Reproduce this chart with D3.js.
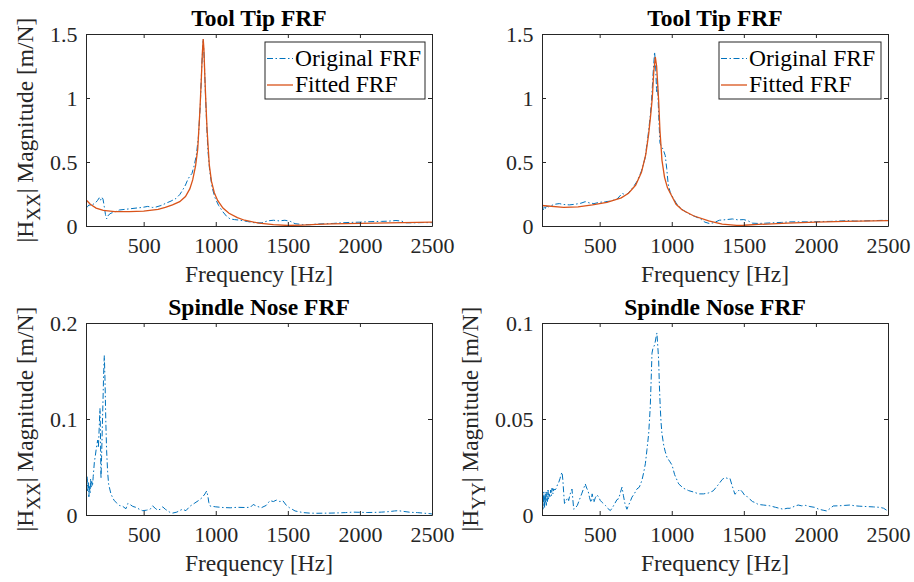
<!DOCTYPE html>
<html>
<head>
<meta charset="utf-8">
<script src="https://cdn.jsdelivr.net/npm/d3@7"></script>
<style>
  body { margin: 0; background: #fff; }
  svg { font-family: "Liberation Serif", "Times New Roman", serif; }
  .axis path, .axis line { stroke: #262626; }
  .axis text { fill: #262626; font-size: 22px; font-family: "Liberation Serif", "Times New Roman", serif; }
</style>
</head>
<body>
<div id="chart"></div>
<script>
// ---- data ----
const xTicks = [500, 1000, 1500, 2000, 2500];
const yTicksTop = [0, 0.5, 1, 1.5];
const yTicksBL = [0, 0.1, 0.2];
const yTicksBR = [0, 0.05, 0.1];

// tool tip, X direction
const freqOrigTL = [100,110,120,135,150,165,180,192,200,210,218,227,235,243,255,273,300,331,370,410,447,490,528,560,585,620,655,690,724,750,770,790,805,820,835,850,865,880,893,903,913,920,928,936,945,958,975,995,1020,1050,1076,1100,1130,1170,1220,1270,1320,1360,1400,1440,1480,1520,1550,1600,1650,1700,1760,1815,1870,1930,2000,2050,2100,2150,2200,2250,2290,2320,2380,2440,2500];
const magOrigTL = [0.16,0.15,0.165,0.16,0.17,0.18,0.2,0.22,0.2,0.225,0.21,0.15,0.09,0.055,0.085,0.1,0.11,0.125,0.13,0.135,0.14,0.145,0.153,0.145,0.148,0.16,0.178,0.195,0.215,0.245,0.28,0.32,0.36,0.39,0.41,0.47,0.55,0.7,0.95,1.25,1.46,1.3,1.05,0.82,0.6,0.43,0.3,0.22,0.16,0.11,0.075,0.055,0.05,0.045,0.035,0.025,0.025,0.04,0.045,0.04,0.045,0.035,0.018,0.012,0.01,0.015,0.018,0.02,0.025,0.028,0.03,0.033,0.035,0.036,0.038,0.043,0.038,0.025,0.025,0.027,0.026];
const freqFitTL = [100,130,170,220,300,400,500,600,650,700,750,790,820,840,860,875,890,900,907,913,918,925,932,940,955,970,990,1013,1050,1092,1150,1200,1300,1400,1500,1600,1700,1800,1900,2000,2200,2400,2500];
const magFitTL = [0.205,0.17,0.14,0.122,0.113,0.112,0.116,0.13,0.145,0.165,0.19,0.23,0.29,0.36,0.47,0.6,0.9,1.15,1.35,1.46,1.38,1.15,0.95,0.75,0.48,0.35,0.26,0.2,0.14,0.1,0.065,0.045,0.022,0.01,0.004,0.007,0.012,0.016,0.019,0.021,0.025,0.028,0.03];

// tool tip, Y direction
const freqOrigTR = [100,105,110,115,120,130,145,165,190,220,250,290,330,370,400,430,460,500,540,580,620,657,680,700,730,760,790,815,835,850,860,870,881,888,895,900,905,910,918,928,940,955,965,975,990,1030,1071,1110,1150,1200,1230,1260,1290,1330,1380,1420,1460,1500,1530,1560,1600,1650,1700,1760,1820,1880,1950,2020,2100,2180,2230,2270,2330,2400,2460,2500];
const magOrigTR = [0.12,0.145,0.125,0.15,0.13,0.155,0.15,0.16,0.17,0.175,0.168,0.165,0.17,0.178,0.19,0.18,0.175,0.185,0.19,0.195,0.21,0.255,0.24,0.26,0.3,0.35,0.43,0.53,0.7,0.85,0.98,1.18,1.36,1.25,1.05,1.15,1.0,0.85,0.65,0.62,0.6,0.55,0.45,0.33,0.26,0.18,0.13,0.1,0.08,0.055,0.03,0.02,0.025,0.045,0.05,0.055,0.048,0.05,0.04,0.022,0.02,0.022,0.025,0.028,0.032,0.033,0.032,0.035,0.036,0.04,0.042,0.038,0.04,0.042,0.044,0.043];
const freqFitTR = [100,250,350,450,550,650,700,750,790,820,840,855,865,875,886,895,903,909,918,932,950,970,990,1030,1071,1150,1256,1350,1450,1500,1600,1800,2000,2200,2400,2500];
const magFitTR = [0.16,0.146,0.15,0.165,0.185,0.22,0.255,0.32,0.42,0.56,0.72,0.88,1.0,1.2,1.32,1.25,1.1,0.98,0.75,0.515,0.38,0.3,0.256,0.17,0.127,0.08,0.04,0.015,0.005,0.006,0.012,0.022,0.03,0.036,0.04,0.042];

// spindle nose, X direction
const freqOrigBL = [100,104,108,112,116,120,124,128,132,135,140,145,150,158,165,172,181,186,190,194,197,200,202,204,208,213,218,222,227,232,237,243,250,257,265,273,285,296,310,331,355,377,390,405,424,445,470,493,520,545,562,580,597,615,632,650,680,701,730,755,770,793,820,850,880,905,925,937,945,952,960,1000,1050,1100,1150,1200,1240,1260,1285,1318,1350,1376,1400,1420,1445,1466,1490,1510,1530,1550,1607,1650,1700,1800,1850,1900,1950,2000,2050,2100,2150,2200,2240,2266,2300,2350,2400,2450,2486,2500];
const magOrigBL = [0.046,0.03,0.04,0.025,0.035,0.019,0.03,0.022,0.038,0.028,0.035,0.03,0.04,0.055,0.062,0.07,0.078,0.07,0.085,0.1,0.111,0.09,0.06,0.038,0.06,0.09,0.12,0.145,0.166,0.14,0.1,0.067,0.045,0.032,0.027,0.022,0.018,0.015,0.013,0.01,0.009,0.0065,0.012,0.011,0.009,0.008,0.006,0.0045,0.005,0.006,0.0095,0.007,0.005,0.006,0.0085,0.006,0.003,0.002,0.003,0.005,0.006,0.0045,0.009,0.012,0.015,0.018,0.022,0.025,0.02,0.013,0.0094,0.0085,0.0078,0.0075,0.008,0.0078,0.008,0.011,0.009,0.0077,0.01,0.015,0.014,0.0155,0.014,0.0148,0.01,0.0077,0.006,0.0042,0.0025,0.002,0.0018,0.002,0.0022,0.0025,0.003,0.0028,0.0026,0.0027,0.003,0.0035,0.0042,0.0045,0.0038,0.0028,0.0025,0.0018,0.0014,0.001];

// spindle nose, Y direction
const freqOrigBR = [100,103,106,109,112,115,118,121,124,127,130,134,138,142,146,150,155,160,165,170,176,181,190,200,208,216,225,232,239,245,250,256,262,270,278,285,292,300,308,314,320,330,345,360,375,390,400,410,420,430,440,448,459,470,482,493,505,518,528,540,555,574,590,605,620,632,645,655,665,675,689,700,712,724,740,759,775,793,805,817,828,840,846,851,857,863,870,878,885,892,897,903,909,914,920,926,932,945,955,967,985,1002,1020,1048,1080,1117,1150,1187,1220,1256,1288,1325,1350,1369,1390,1404,1420,1438,1455,1473,1490,1508,1525,1542,1560,1577,1600,1635,1680,1720,1773,1800,1820,1850,1877,1900,1930,1958,1990,2020,2050,2075,2100,2120,2160,2200,2236,2270,2300,2352,2400,2444,2470,2490];
const magOrigBR = [0.004,0.011,0.003,0.012,0.005,0.01,0.004,0.012,0.006,0.011,0.005,0.012,0.007,0.013,0.008,0.011,0.009,0.013,0.01,0.014,0.011,0.0136,0.013,0.014,0.016,0.017,0.019,0.021,0.0223,0.018,0.012,0.006,0.0065,0.008,0.009,0.0075,0.01,0.012,0.0135,0.008,0.003,0.0035,0.005,0.008,0.011,0.014,0.0162,0.014,0.0125,0.009,0.0065,0.011,0.0065,0.009,0.0105,0.0093,0.0075,0.0065,0.0058,0.005,0.0035,0.0023,0.004,0.006,0.008,0.0085,0.012,0.0145,0.01,0.006,0.003,0.005,0.007,0.0093,0.011,0.0136,0.0145,0.018,0.022,0.0267,0.034,0.0424,0.05,0.0564,0.07,0.0843,0.087,0.088,0.09,0.093,0.0948,0.088,0.081,0.068,0.0564,0.048,0.0424,0.036,0.033,0.03,0.028,0.026,0.021,0.0162,0.014,0.0127,0.012,0.011,0.011,0.0115,0.0126,0.016,0.0185,0.0195,0.019,0.019,0.015,0.0108,0.012,0.0134,0.012,0.01,0.0095,0.0082,0.007,0.0065,0.0055,0.0052,0.0048,0.004,0.003,0.0035,0.0035,0.0045,0.0052,0.0048,0.005,0.0044,0.004,0.003,0.0025,0.0021,0.0035,0.0047,0.0048,0.005,0.0052,0.0048,0.0046,0.0044,0.0042,0.004,0.0035,0.0025];

const blue = '#0072BD';
const orange = '#D95319';
const dashDot = '6,2.5,1.5,2.5';

const W = 914, H = 582;
const svg = d3.select('#chart').append('svg')
  .attr('width', W).attr('height', H);

const panels = [
  {left: 86,  top: 34,  ymax: 1.5, yTicks: yTicksTop, title: 'Tool Tip FRF', sub: 'XX', ylabOff: 53,
   orig: [freqOrigTL, magOrigTL], fit: [freqFitTL, magFitTL]},
  {left: 542, top: 34,  ymax: 1.5, yTicks: yTicksTop, title: 'Tool Tip FRF', sub: null,
   orig: [freqOrigTR, magOrigTR], fit: [freqFitTR, magFitTR]},
  {left: 86,  top: 323, ymax: 0.2, yTicks: yTicksBL, title: 'Spindle Nose FRF', sub: 'XX', ylabOff: 53,
   orig: [freqOrigBL, magOrigBL]},
  {left: 542, top: 323, ymax: 0.1, yTicks: yTicksBR, title: 'Spindle Nose FRF', sub: 'YY', ylabOff: 64,
   orig: [freqOrigBR, magOrigBR]}
];
const pw = 346, ph = 192;

panels.forEach((p, i) => {
  const g = svg.append('g').attr('transform', `translate(${p.left},${p.top})`);
  const x = d3.scaleLinear().domain([100, 2500]).range([0, pw]);
  const y = d3.scaleLinear().domain([0, p.ymax]).range([ph, 0]);

  g.append('clipPath').attr('id', 'clip' + i)
    .append('rect').attr('width', pw).attr('height', ph);

  const line = d3.line().x(d => x(d[0])).y(d => y(d[1]));
  const plot = g.append('g').attr('clip-path', `url(#clip${i})`);

  plot.append('path')
    .datum(d3.zip(p.orig[0], p.orig[1]))
    .attr('d', line)
    .attr('fill', 'none')
    .attr('stroke', blue)
    .attr('stroke-width', 1)
    .attr('stroke-dasharray', dashDot);

  if (p.fit) {
    plot.append('path')
      .datum(d3.zip(p.fit[0], p.fit[1]))
      .attr('d', line)
      .attr('fill', 'none')
      .attr('stroke', orange)
      .attr('stroke-width', 1.3);
  }

  const fmt = d => String(d);

  // axes, ticks pointing inwards on all four sides
  g.append('g').attr('class', 'axis').attr('transform', `translate(0,${ph})`)
    .call(d3.axisBottom(x).tickValues(xTicks).tickSize(-4).tickSizeOuter(0).tickPadding(11).tickFormat(fmt));
  g.append('g').attr('class', 'axis')
    .call(d3.axisTop(x).tickValues(xTicks).tickSize(-4).tickSizeOuter(0).tickFormat(''));
  g.append('g').attr('class', 'axis')
    .call(d3.axisLeft(y).tickValues(p.yTicks).tickSize(-4).tickSizeOuter(0).tickPadding(8.5).tickFormat(fmt));
  g.append('g').attr('class', 'axis').attr('transform', `translate(${pw},0)`)
    .call(d3.axisRight(y).tickValues(p.yTicks).tickSize(-4).tickSizeOuter(0).tickFormat(''));
  g.selectAll('.axis').attr('font-family', null);

  // title
  g.append('text')
    .attr('x', pw / 2).attr('y', -8)
    .attr('text-anchor', 'middle')
    .attr('font-weight', 'bold')
    .attr('font-size', 23.5)
    .attr('fill', '#000')
    .text(p.title);

  // x label
  g.append('text')
    .attr('x', pw / 2).attr('y', ph + 56)
    .attr('text-anchor', 'middle')
    .attr('font-size', 23.5)
    .attr('fill', '#262626')
    .text('Frequency [Hz]');

  // y label with subscript
  if (p.sub) {
    const t = g.append('text')
      .attr('transform', `translate(${-p.ylabOff},${ph / 2}) rotate(-90)`)
      .attr('text-anchor', 'middle')
      .attr('font-size', 23.5)
      .attr('fill', '#262626');
    t.append('tspan').text('|H');
    t.append('tspan').attr('dy', 7).attr('font-size', 19).text(p.sub);
    t.append('tspan').attr('dy', -7).text('| Magnitude [m/N]');
  }

  // legend
  if (p.fit) {
    const lw = i === 0 ? 160 : 162;
    const lg = g.append('g').attr('transform', `translate(${pw - 7 - lw},8)`);
    lg.append('rect').attr('width', lw).attr('height', 57)
      .attr('fill', '#fff').attr('stroke', '#262626').attr('stroke-width', 1);
    const items = [['Original FRF', blue, dashDot, 1], ['Fitted FRF', orange, null, 1.3]];
    items.forEach((it, k) => {
      const cy = 16.5 + k * 26.5;
      lg.append('line').attr('x1', 2).attr('x2', 28).attr('y1', cy).attr('y2', cy)
        .attr('stroke', it[1]).attr('stroke-width', it[3])
        .attr('stroke-dasharray', it[2]);
      lg.append('text').attr('x', 30).attr('y', cy + 7)
        .attr('font-size', 23.5).attr('fill', '#000').text(it[0]);
    });
  }
});
</script>
</body>
</html>
